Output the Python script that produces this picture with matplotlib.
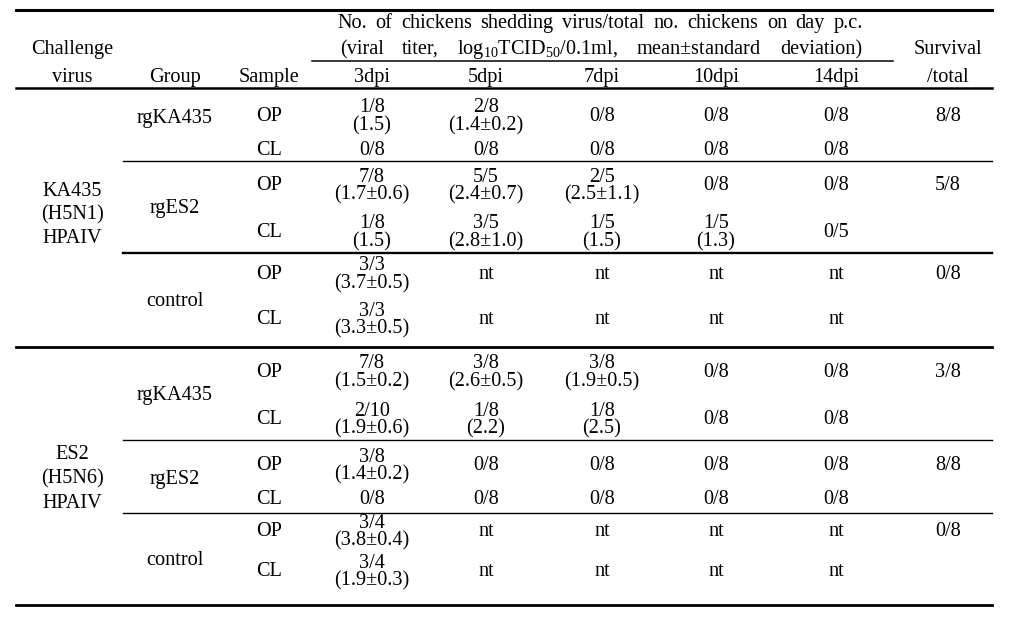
import matplotlib
matplotlib.use("Agg")
from matplotlib import pyplot as plt

plt.rcParams["font.family"] = ["Liberation Serif", "DejaVu Serif"]
plt.rcParams["mathtext.fontset"] = "custom"
plt.rcParams["mathtext.rm"] = "Liberation Serif"
plt.rcParams["mathtext.it"] = "Liberation Serif:italic"
plt.rcParams["mathtext.default"] = "rm"

# ---- table content ----
header_1 = "No. of chickens shedding virus/total no. chickens on day p.c."
header_2 = r"(viral titer, log$_{10}$TCID$_{50}$/0.1ml, mean$\pm$standard deviation)"
challenge_viruses = [["KA435", "(H5N1)", "HPAIV"], ["ES2", "(H5N6)", "HPAIV"]]
groups = ["rgKA435", "rgES2", "control"]
samples = ["OP", "CL"]
days = ["3dpi", "5dpi", "7dpi", "10dpi", "14dpi"]

# shedding per (group, sample) row: "n/N" or "n/N|(titer)"
ka435_shedding = [
    ["1/8|(1.5)", "2/8|(1.4\u00b10.2)", "0/8", "0/8", "0/8"],
    ["0/8", "0/8", "0/8", "0/8", "0/8"],
    ["7/8|(1.7\u00b10.6)", "5/5|(2.4\u00b10.7)", "2/5|(2.5\u00b11.1)", "0/8", "0/8"],
    ["1/8|(1.5)", "3/5|(2.8\u00b11.0)", "1/5|(1.5)", "1/5|(1.3)", "0/5"],
    ["3/3|(3.7\u00b10.5)", "nt", "nt", "nt", "nt"],
    ["3/3|(3.3\u00b10.5)", "nt", "nt", "nt", "nt"],
]
es2_shedding = [
    ["7/8|(1.5\u00b10.2)", "3/8|(2.6\u00b10.5)", "3/8|(1.9\u00b10.5)", "0/8", "0/8"],
    ["2/10|(1.9\u00b10.6)", "1/8|(2.2)", "1/8|(2.5)", "0/8", "0/8"],
    ["3/8|(1.4\u00b10.2)", "0/8", "0/8", "0/8", "0/8"],
    ["0/8", "0/8", "0/8", "0/8", "0/8"],
    ["3/4|(3.8\u00b10.4)", "nt", "nt", "nt", "nt"],
    ["3/4|(1.9\u00b10.3)", "nt", "nt", "nt", "nt"],
]
ka435_survival = ["8/8", "5/8", "0/8"]
es2_survival = ["3/8", "8/8", "0/8"]

# ---- layout (pixels) ----
W, H = 1014, 623
fs = 14.6
dy = 1.5
col_x = {"virus": 72, "group": 175, "sample": 269, "surv": 948}
day_x = [372, 486, 602, 716, 836]
x_left, x_right, x_sub = 16, 992, 123
row_y = [[115, 149, 184, 231, 273, 318], [371, 418, 464, 498, 530, 570]]
group_y = [[117, 207, 300], [394, 478, 559]]
virus_y = [[190, 213, 237], [453, 477, 502]]
split_up, split_dn = 8.5, 9.5

fig = plt.figure(figsize=(W / 100, H / 100), dpi=100)
ax = fig.add_axes([0, 0, 1, 1])
ax.set_xlim(0, W)
ax.set_ylim(H, 0)
ax.axis("off")

def txt(x, y, s, ha="center"):
    return ax.text(x, y + dy, s, ha=ha, va="center", fontsize=fs, color="black")

def justified(words, x0, x1, y):
    # spread the words so the line fills x0..x1, like the typeset header
    renderer = fig.canvas.get_renderer()
    items = [txt(x0, y, w, ha="left") for w in words]
    widths = [t.get_window_extent(renderer).width for t in items]
    gap = (x1 - x0 - sum(widths)) / (len(words) - 1)
    x = x0
    for t, w in zip(items, widths):
        t.set_x(x)
        x += w + gap

# header
justified(header_1.split(" "), 337, 863, 22)
justified(header_2.split(" "), 340, 862, 48)
txt(col_x["virus"], 48, "Challenge")
txt(col_x["virus"], 76, "virus")
txt(col_x["group"], 76, "Group")
txt(col_x["sample"], 76, "Sample")
for x, d in zip(day_x, days):
    txt(x, 76, d)
txt(col_x["surv"], 48, "Survival")
txt(col_x["surv"], 76, "/total")

ax.plot([x_left, x_right], [10, 10], color="black", lw=2.2)
ax.plot([312, 893], [61, 61], color="black", lw=1.1)
ax.plot([x_left, x_right], [88, 88], color="black", lw=1.8)

blocks = [(challenge_viruses[0], ka435_shedding, ka435_survival),
          (challenge_viruses[1], es2_shedding, es2_survival)]
for b, (virus, shed, surv) in enumerate(blocks):
    for line, y in zip(virus, virus_y[b]):
        txt(col_x["virus"], y, line)
    for g, name in enumerate(groups):
        txt(col_x["group"], group_y[b][g], name)
        txt(col_x["surv"], row_y[b][2 * g], surv[g])
        for s, smp in enumerate(samples):
            r = 2 * g + s
            y = row_y[b][r]
            txt(col_x["sample"], y, smp)
            for x, cell in zip(day_x, shed[r]):
                if "|" in cell:
                    top, bot = cell.split("|")
                    txt(x, y - split_up, top)
                    txt(x, y + split_dn, bot)
                else:
                    txt(x, y, cell)

# rules between groups
for y, lw in [(161, 1.0), (253, 1.7), (440, 1.0), (513, 1.0)]:
    ax.plot([x_sub, x_right], [y, y], color="black", lw=lw)
ax.plot([x_left, x_right], [347, 347], color="black", lw=2.0)
ax.plot([x_left, x_right], [605, 605], color="black", lw=2.0)

fig.savefig("out.png", dpi=100)
